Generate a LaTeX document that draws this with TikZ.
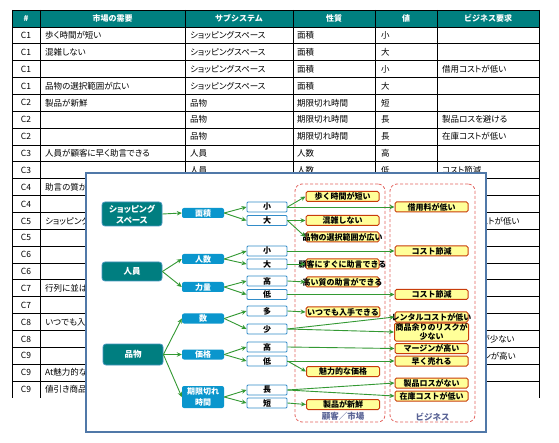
\documentclass[tikz,border=0pt]{standalone}
\usepackage{fontspec}
\setmainfont{Noto Sans CJK JP}
\newfontfamily\jp[AutoFakeSlant=0.2]{Noto Sans CJK JP}
\newfontfamily\jpp[RawFeature=+palt]{Noto Sans CJK JP}
\usetikzlibrary{arrows.meta}

\definecolor{hdrteal}{RGB}{0,128,128}
\definecolor{systeal}{RGB}{0,126,128}
\definecolor{sysedge}{RGB}{70,150,190}
\definecolor{propblue}{RGB}{10,150,205}
\definecolor{valblue}{RGB}{50,140,200}
\definecolor{goalyellow}{RGB}{255,255,153}
\definecolor{goalred}{RGB}{200,60,10}
\definecolor{zonered}{RGB}{228,100,95}
\definecolor{linkgreen}{RGB}{51,153,51}
\definecolor{frameblue}{RGB}{80,120,168}
\definecolor{lblslate}{RGB}{90,100,150}

\begin{document}
\begin{tikzpicture}[x=1pt, y=-1pt,
    grid/.style={draw=black, line width=0.8pt},
    hdr/.style={font=\jp\bfseries\fontsize{8}{9}\selectfont, text=white, inner sep=0pt},
    cell/.style={font=\jpp\fontsize{8.5}{9}\selectfont, inner sep=0pt, anchor=west},
    frame/.style={draw=frameblue, line width=2.4pt, fill=white},
    zone/.style={draw=zonered, dash pattern=on 3pt off 2pt, line width=0.8pt, rounded corners=7pt, minimum height=238pt, inner sep=0pt},
    zonelbl/.style={font=\jp\bfseries\itshape\fontsize{8.5}{9}\selectfont, text=lblslate, inner sep=0pt, anchor=south},
    sys/.style={fill=systeal, draw=sysedge, line width=0.8pt, rounded corners=3pt, text=white, font=\jpp\bfseries\fontsize{8.5}{11}\selectfont, align=center, minimum width=60pt, inner sep=0pt},
    prop/.style={fill=propblue, rounded corners=2pt, text=white, font=\jpp\bfseries\fontsize{8}{10.5}\selectfont, align=center, minimum width=42pt, minimum height=10pt, inner sep=0pt},
    val/.style={draw=valblue, fill=white, line width=0.9pt, rounded corners=1pt, minimum width=40pt, minimum height=10pt, inner sep=0pt, font=\jp\bfseries\fontsize{8}{8}\selectfont},
    goal/.style={draw=goalred, fill=goalyellow, line width=1pt, rounded corners=1.5pt, minimum width=73pt, minimum height=10pt, inner ysep=0pt, inner xsep=1pt, font=\jp\bfseries\fontsize{8}{9.5}\selectfont, align=center},
    spill/.style={inner xsep=-10pt},
    link/.style={draw=linkgreen, line width=0.9pt, -{Stealth[length=5pt, width=4.5pt]}},
]
\useasboundingbox (0,0) rectangle (559,443);

% Table behind
\fill[hdrteal] (12,10) rectangle (539,27);
\draw[grid] (12,10) -- (539,10);
\foreach \k in {0,...,21}
  \draw[grid] (12,{27+16.86*\k}) -- (539,{27+16.86*\k});
\foreach \cx in {12,40,185,293,375,437,539}
  \draw[grid] (\cx,10) -- (\cx,397.9);

\node[hdr] (h-id) at (26,18.5) {\#};
\node[hdr] (h-need) at (112.5,18.5) {市場の需要};
\node[hdr] (h-sub) at (239,18.5) {サブシステム};
\node[hdr] (h-prop) at (334,18.5) {性質};
\node[hdr] (h-val) at (406,18.5) {値};
\node[hdr] (h-biz) at (488,18.5) {ビジネス要求};

\foreach \r/\t in {1/C1,2/C1,3/C1,4/C1,5/C2,6/C2,7/C2,8/C3,9/C3,10/C4,11/C4,12/C5,13/C5,14/C6,15/C6,16/C7,17/C7,18/C8,19/C8,20/C9,21/C9,22/C9}
  \node[cell, anchor=center] (id-\r) at (26,{27+16.86*(\r-0.5)}) {\t};
\foreach \r/\t in {1/歩く時間が短い,2/混雑しない,4/品物の選択範囲が広い,5/製品が新鮮,8/人員が顧客に早く助言できる,10/助言の質が高い,12/ショッピングが,16/行列に並ばない,18/いつでも入手できる,21/At魅力的な,22/値引き商品がある}
  \node[cell] (need-\r) at (45,{27+16.86*(\r-0.5)}) {\t};
\foreach \r/\t in {1/ショッピングスペース,2/ショッピングスペース,3/ショッピングスペース,4/ショッピングスペース,5/品物,6/品物,7/品物,8/人員,9/人員}
  \node[cell] (sub-\r) at (190,{27+16.86*(\r-0.5)}) {\t};
\foreach \r/\t in {1/面積,2/面積,3/面積,4/面積,5/期限切れ時間,6/期限切れ時間,7/期限切れ時間,8/人数,9/人数}
  \node[cell] (prop-\r) at (297,{27+16.86*(\r-0.5)}) {\t};
\foreach \r/\t in {1/小,2/大,3/小,4/大,5/短,6/長,7/長,8/高,9/低}
  \node[cell] (val-\r) at (381,{27+16.86*(\r-0.5)}) {\t};
\foreach \r/\t in {3/借用コストが低い,6/製品ロスを避ける,7/在庫コストが低い,9/コスト節減,12/レンタルコストが低い,19/在庫リスクが少ない,20/利益マージンが高い}
  \node[cell] (biz-\r) at (442,{27+16.86*(\r-0.5)}) {\t};

% Overlay diagram
\draw[frame] (86,173) rectangle (486,432);

\node[zone, minimum width=90pt] (cust) at (340,303) {};
\node[zone, minimum width=85pt] (bizz) at (432.5,303) {};
\node[zonelbl] (cust-lbl) at ([xshift=3pt, yshift=1.5pt]cust.south) {顧客／市場};
\node[zonelbl] (bizz-lbl) at ([yshift=1.5pt]bizz.south) {ビジネス};

% Subsystems
\node[sys, minimum height=24pt] (shop) at (132,214) {ショッピング\\スペース};
\node[sys, minimum height=19pt] (staff) at (132,271.5) {人員};
\node[sys, minimum height=21pt] (goods) at (133,354.5) {品物};

% Properties
\node[prop] (area) at (203,213) {面積};
\node[prop] (count) at (203,259) {人数};
\node[prop] (skill) at (203,287) {力量};
\node[prop] (qty) at (203,318.5) {数};
\node[prop] (price) at (203,354.5) {価格};
\node[prop, minimum height=22pt] (expiry) at (203,397) {期限切れ\\時間};

% Values
\node[val] (area-s) at (267,207) {小};
\node[val] (area-l) at (267,220.5) {大};
\node[val] (count-s) at (267,251) {小};
\node[val] (count-l) at (267,264) {大};
\node[val] (skill-h) at (267,281) {高};
\node[val] (skill-l) at (267,294.5) {低};
\node[val] (qty-m) at (267,311) {多};
\node[val] (qty-f) at (267,329) {少};
\node[val] (price-h) at (267,347) {高};
\node[val] (price-l) at (267,361) {低};
\node[val] (exp-l) at (267,390) {長};
\node[val] (exp-s) at (267,403) {短};

% Customer / market needs
\node[goal] (walk) at (342.5,196.5) {歩く時間が短い};
\node[goal] (crowd) at (342.5,220.5) {混雑しない};
\node[goal, spill] (range) at (342.5,237) {品物の選択範囲が広い};
\node[goal, spill] (advise) at (342.5,264) {顧客にすぐに助言できる};
\node[goal, spill] (quality) at (342.5,282) {高い質の助言ができる};
\node[goal] (anytime) at (343,312) {いつでも入手できる};
\node[goal] (attract) at (343,371.5) {魅力的な価格};
\node[goal] (fresh) at (343,404.5) {製品が新鮮};

% Business needs
\node[goal] (rent) at (431.5,207) {借用料が低い};
\node[goal] (save1) at (431.5,251) {コスト節減};
\node[goal] (save2) at (431.5,294.5) {コスト節減};
\node[goal, spill] (rentcost) at (431.5,317) {レンタルコストが低い};
\node[goal, minimum height=18pt] (surplus) at (431.5,332) {商品余りのリスクが\\少ない};
\node[goal] (margin) at (431.5,348.5) {マージンが高い};
\node[goal] (sell) at (431.5,361) {早く売れる};
\node[goal] (loss) at (431.5,383) {製品ロスがない};
\node[goal] (stock) at (431.5,396) {在庫コストが低い};

% Links
\draw[link] (shop.east) -- (area.west);
\draw[link] (staff.east) -- (count.west);
\draw[link] (staff.east) -- (skill.west);
\draw[link] (goods.east) -- (qty.west);
\draw[link] (goods.east) -- (price.west);
\draw[link] (goods.east) -- (expiry.west);

\draw[link] (area.east) -- (area-s.west);
\draw[link] (area.east) -- (area-l.west);
\draw[link] (count.east) -- (count-s.west);
\draw[link] (count.east) -- (count-l.west);
\draw[link] (skill.east) -- (skill-h.west);
\draw[link] (skill.east) -- (skill-l.west);
\draw[link] (qty.east) -- (qty-m.west);
\draw[link] (qty.east) -- (qty-f.west);
\draw[link] (price.east) -- (price-h.west);
\draw[link] (price.east) -- (price-l.west);
\draw[link] (expiry.east) -- (exp-l.west);
\draw[link] (expiry.east) -- (exp-s.west);

\draw[link] (area-s.east) -- (walk.west);
\draw[link] (area-s.east) -- (rent.west);
\draw[link] (area-l.east) -- (crowd.west);
\draw[link] (area-l.east) -- (range.west);
\draw[link] (count-s.east) -- (save1.west);
\draw[link] (count-l.east) -- (advise.west);
\draw[link] (skill-h.east) -- (quality.west);
\draw[link] (skill-l.east) -- (save2.west);
\draw[link] (qty-m.east) -- (anytime.west);
\draw[link] (qty-f.east) -- (rentcost.west);
\draw[link] (qty-f.east) -- (surplus.west);
\draw[link] (price-h.east) -- (margin.west);
\draw[link] (price-l.east) -- (sell.west);
\draw[link] (price-l.east) -- (attract.west);
\draw[link] (exp-l.east) -- (loss.west);
\draw[link] (exp-l.east) -- (stock.west);
\draw[link] (exp-s.east) -- (fresh.west);

\end{tikzpicture}
\end{document}
